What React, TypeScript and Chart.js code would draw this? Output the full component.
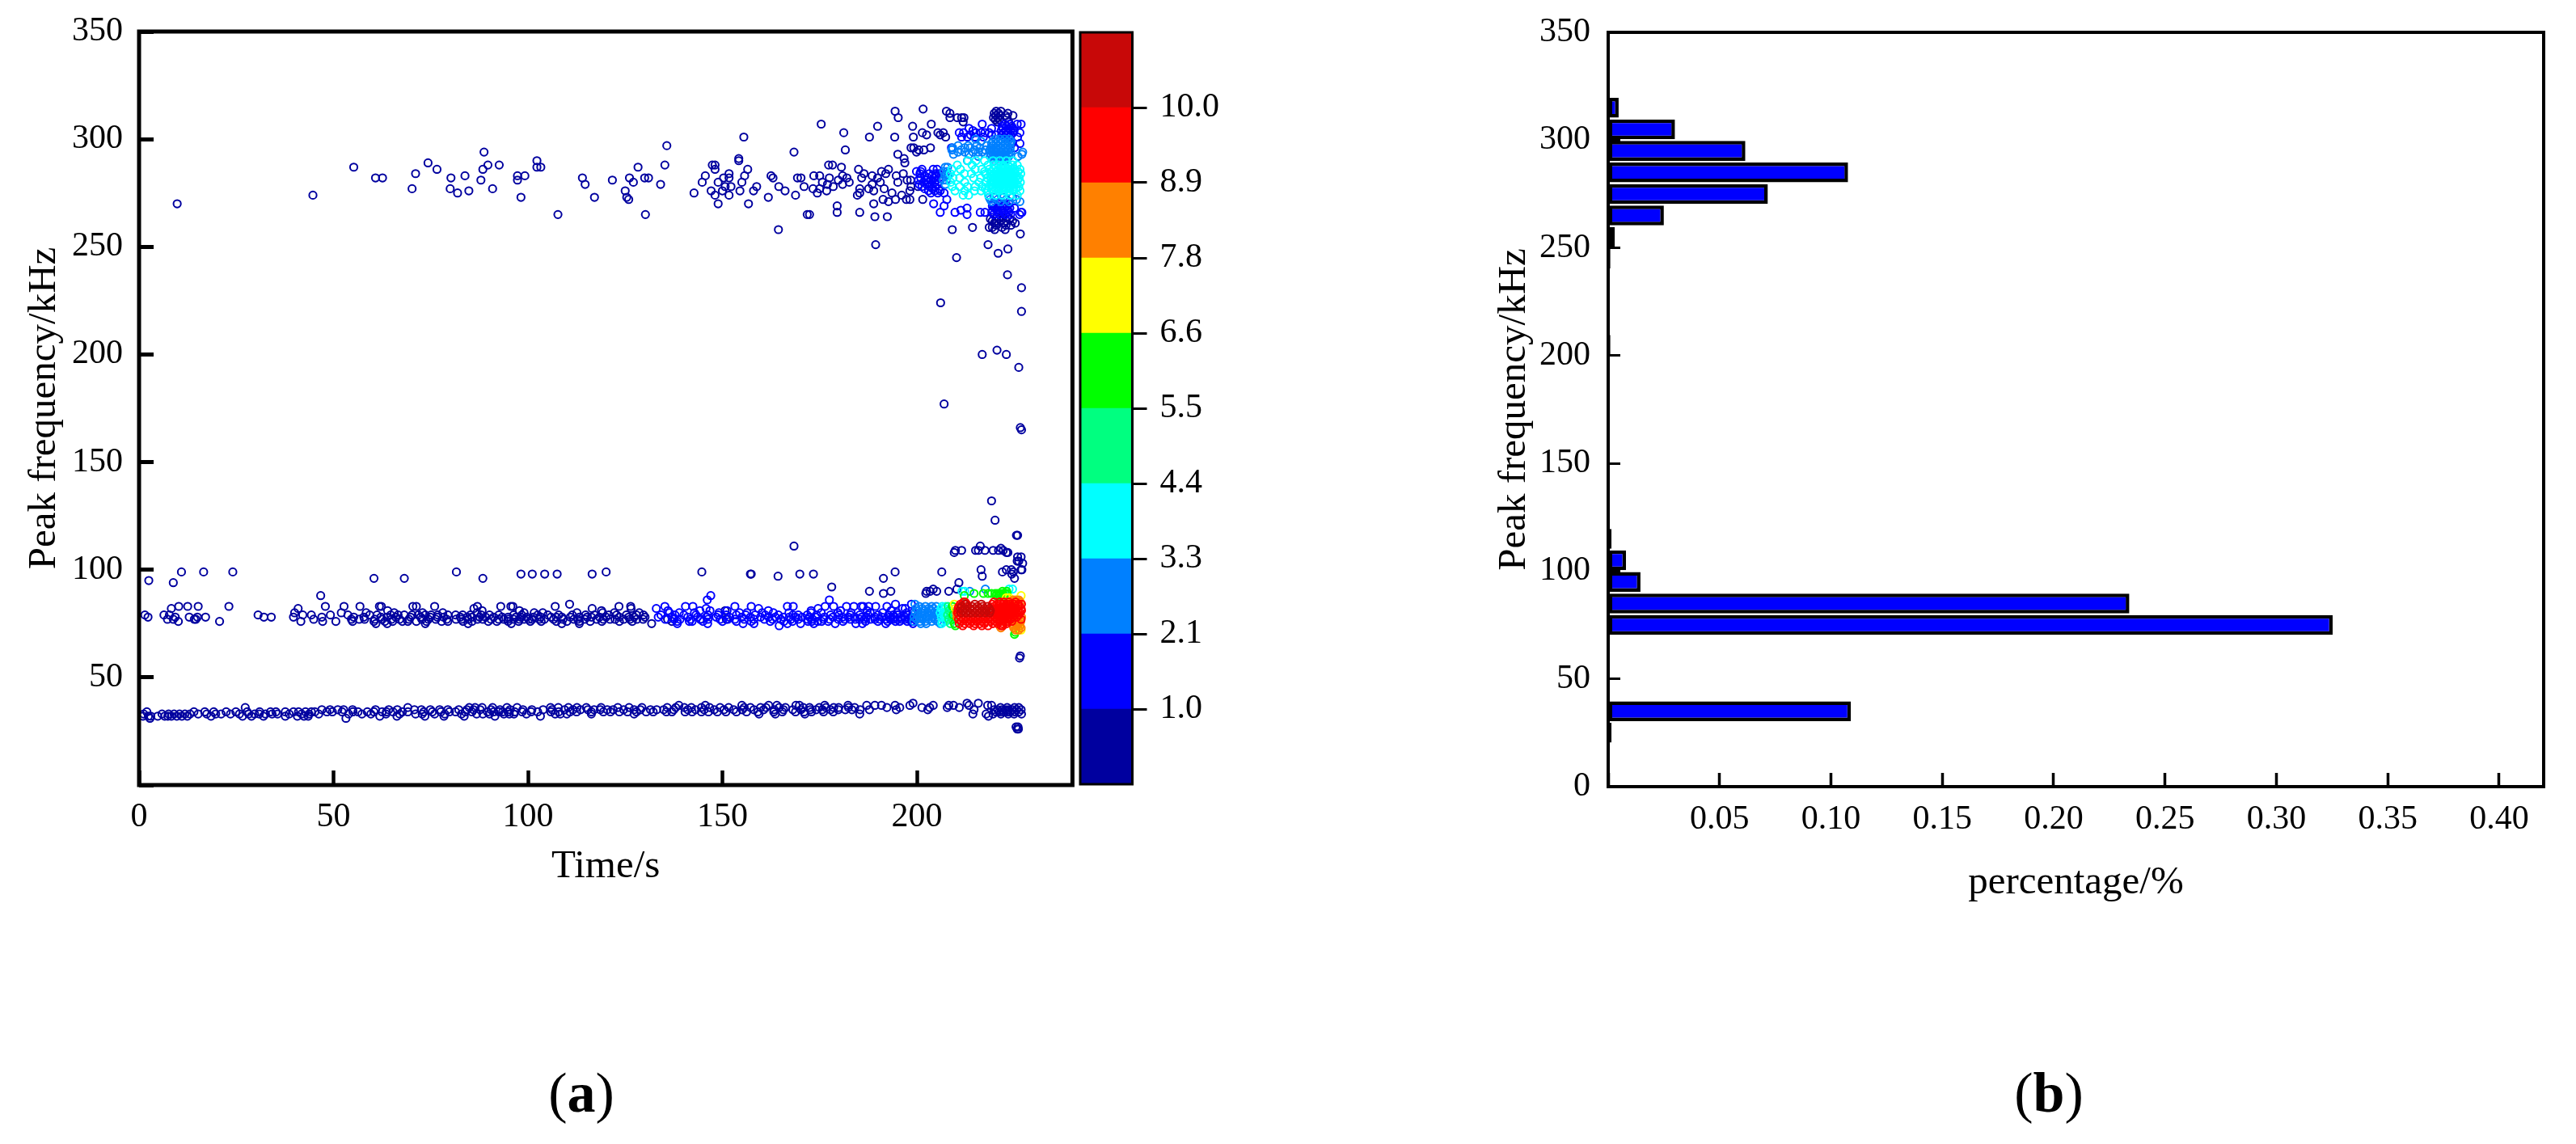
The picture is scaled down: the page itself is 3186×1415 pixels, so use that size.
import { useEffect, useRef } from "react"
import { Chart, registerables } from "chart.js"

Chart.register(...registerables)

type Row = [number, number[]]

const FONT = "Liberation Serif"

// colour bands, coldest first
const levelColors = ["#00009F", "#0000FF", "#0080FF", "#00FFFF", "#00FF80", "#00FF00", "#FFFF00", "#FF8000", "#FF0000", "#C80808"]
const levelLabels = ["1.0", "2.1", "3.3", "4.4", "5.5", "6.6", "7.8", "8.9", "10.0"]

// scatter rows: [peak frequency kHz, [time s, ...]]
const level0Rows: Row[] = [
  [314, [201.6]],
  [313, [194.4, 207.6, 220.4, 221.6]],
  [312, [208.5, 219.9, 221, 223.4]],
  [311, [220.3, 221.4, 222.8, 224.7]],
  [310, [195.2, 208.5, 210.4, 211.5, 212.1, 219.7, 220.8, 223.2]],
  [309, [220.2, 221.2]],
  [308, [211.9, 220.7, 223.6]],
  [307, [175.4, 203.7]],
  [306, [189.9, 198.9]],
  [303, [181.2, 201.4, 205.4, 206.8]],
  [302, [202.5, 206]],
  [301, [155.5, 187.8, 194.3, 199.1, 207.4]],
  [297, [135.7]],
  [296, [198.5, 199.2, 203.5]],
  [295, [181.6, 200.5, 201.8]],
  [294, [88.7, 168.4, 199.9]],
  [293, [195.1]],
  [291, [154.2, 196.7]],
  [290, [102.3, 154.2]],
  [289, [74.3, 196.9]],
  [288, [89.7, 92.6, 135.2, 147.4, 148.1, 177.3, 178.3]],
  [287, [55.2, 102.3, 103.3, 128.3, 180.6]],
  [286, [76.6, 88.4, 148.1, 156.5, 185, 192.7]],
  [285, [190.9]],
  [284, [71.1, 151.7, 186.4, 192, 196.5]],
  [283, [83.8, 97.3, 99.2, 145.6, 155.7, 162.5, 173.5, 175, 180.9, 188.5, 194.7]],
  [282, [60.8, 62.6, 80.2, 114, 126.1, 130, 131, 150.3, 151.7, 163, 169.3, 170.2, 177.5, 182, 185.8, 189.9]],
  [281, [87.9, 97.3, 121.7, 179.8, 197.5, 198.4]],
  [280, [127.1, 144.8, 148.9, 155, 175.7, 182.6, 190.6, 195.1]],
  [279, [114.7, 134.1, 177, 180.9, 188.5]],
  [278, [150.7, 152.2, 158.8, 164.5, 171, 178.5, 198.5, 200.3]],
  [277, [70.2, 80, 90.9, 173.3, 175, 185.3, 187.6, 191.6]],
  [276, [84.8, 125, 147.1, 150, 154.5, 158, 166.1, 176.8, 188.9, 198.2]],
  [275, [81.9, 142.7, 174.4, 185.3, 193.6]],
  [274, [44.7, 148.1, 151.7, 168.8, 184.7, 196.1]],
  [273, [98.2, 117.1, 125.4, 161.8]],
  [272, [125.9, 191.3, 194.5, 197.3, 198.2, 201.5]],
  [271, [192.7]],
  [270, [9.8, 148.9, 156.7, 188.9]],
  [269, [179.5]],
  [266, [179.5, 185.3]],
  [265, [107.7, 130.2, 171.8, 172.4]],
  [264, [189.2, 192.4, 220.6, 222.1, 223.3]],
  [263, [218.9, 221.1, 223.9]],
  [262, [219.4, 220.3, 221.6, 223, 224.6]],
  [261, [219.9, 222.3, 225.3]],
  [260, [220.5, 222.9, 224.2]],
  [259, [214.3, 218.6, 219.4, 221.9]],
  [258, [164.4, 209.1, 220, 222.7]],
  [256, [226.6]],
  [251, [189.4, 218.3]],
  [249, [223.4]],
  [247, [220.9]],
  [245, [210.2]],
  [237, [223.3]],
  [231, [226.9]],
  [224, [206.1]],
  [220, [226.9]],
  [202, [220.6]],
  [200, [216.8, 223]],
  [194, [226.2]],
  [177, [207]],
  [166, [226.6]],
  [165, [226.9]],
  [132, [219.2]],
  [123, [220.1]],
  [116, [225.6, 225.9]],
  [111, [168.4, 216.3]],
  [110, [221.6]],
  [109, [209.9, 211.5, 215.1, 215.8, 217.5, 219.6, 221, 222.2]],
  [108, [209.6, 223, 223.4]],
  [106, [226.8, 225.9]],
  [104, [225.8, 226.2]],
  [103, [227.2]],
  [100, [216.5, 223, 224.3, 226.8, 227]],
  [99, [10.9, 16.6, 24.1, 81.6, 120.1, 144.7, 194.4, 206.4, 222, 224.8]],
  [98, [98.2, 101.1, 104.3, 107.5, 116.5, 157.2, 157.4, 169.9, 173.4, 224.4]],
  [97, [164.3, 216.8]],
  [96, [60.4, 68.2, 88.4, 191.4, 225.1]],
  [95, [2.5]],
  [94, [8.8, 210.8]],
  [92, [178.1]],
  [91, [204.2, 210.3]],
  [90, [187.8, 193.3, 203.4, 205.1, 208.2, 202.5]],
  [89, [191.4, 202.3]],
  [88, [46.7]],
  [84, [110.7]],
  [83, [10.2, 12.5, 15.2, 23.1, 47.9, 52.7, 56.8, 61.8, 62.3, 70.4, 71.3, 76, 87, 93, 95.6, 96.1, 107, 123.4, 126.4]],
  [82, [8.3, 40.9, 86.1, 116.5, 126.5]],
  [81, [150.7, 63.9, 88.2, 97.8, 118.9]],
  [80, [40, 52, 99, 101.6, 122.2, 58.4, 65.6, 72.9, 78.1, 86.9, 103.8, 112.6, 119.2, 128.6]],
  [79, [1.5, 6.4, 7.8, 30.6, 42.1, 44.3, 49.2, 53.7, 59.3, 64.7, 66.6, 68.2, 71.8, 73.6, 76.8, 79.4, 81.4, 83.2, 90.1, 92.5, 96.3, 102.5, 111.4, 114.8, 120.8, 122.8, 125.3, 129.7, 61.2, 70.2, 75.1, 85.2, 88, 98.4, 105.1, 107.9, 117.1, 127.9]],
  [78, [2.3, 9.3, 12.9, 15, 17.1, 32.1, 34, 39.7, 47, 55.2, 62.2, 69.8, 76.7, 84.4, 85.6, 89.1, 93.4, 94.9, 96.9, 99.7, 101.4, 105.9, 108.7, 110.9, 113.2, 116.3, 120.1, 123.5, 127.3, 130.1, 57.8, 63.8, 66, 72.4, 74.9, 78.3, 82.6, 87.6, 91.2, 98.2, 103.3, 107.3, 115.2, 118.4, 125.9]],
  [77, [7.3, 8.8, 14.2, 14.6, 44.9, 54.6, 56.6, 58, 62.5, 64.9, 67, 76.3, 79.1, 81.5, 84.6, 87, 90.5, 92.5, 93.8, 96.3, 99, 101.1, 104.2, 106.6, 109, 111.8, 114.6, 117.7, 121.1, 124.6, 128, 135.9, 144.3, 151, 60.6, 69.4, 72.7, 74.4, 82.9, 88.4, 94.9, 97.8, 100.2, 102.9, 112.8, 119.4, 122.4, 126.2, 129.6]],
  [76, [10.1, 20.7, 41.6, 47.2, 50.6, 54.9, 60.4, 63.2, 67.7, 69.1, 71.3, 73.9, 79.4, 85.6, 89.8, 94.9, 97.6, 107.3, 113.2, 123.5, 137, 65.2, 77.8, 83.3, 92, 100.6, 103.4, 110, 116, 119, 126.8]],
  [75, [95.7, 108.7, 113.2, 131.8, 60.9, 63.8, 73.6, 84.6]],
  [38, [199, 212.9, 215.8]],
  [37, [169.8, 176.3, 182.3, 187.1, 189.2, 190.9, 194.4, 198.2, 204.2, 208.2, 209.4, 213.4, 218.2, 219.2, 138.8, 145.6, 155, 161.9, 164, 168.9]],
  [36, [27.3, 69.1, 84.9, 107.8, 115, 138, 144.6, 146.7, 149.4, 155.6, 161.2, 164.6, 170.8, 176.6, 179.9, 182.4, 192.3, 195.6, 201.3, 203.3, 207.8, 210.9, 221.5, 223.2, 225.1, 226.2, 86.4, 88.2, 90.9, 94.6, 97.2, 105.8, 110.4, 112.6, 118.8, 123.1, 126, 129.3, 135.8, 140.2, 142, 151.6, 157.2, 159.8, 166.2, 172.4, 174.9, 178.6, 184]],
  [35, [47, 51.1, 54.9, 60.8, 74.9, 77.3, 82.2, 87.7, 90.5, 98.7, 103.9, 109.4, 113.5, 117, 120.4, 124.6, 127.3, 131.5, 134.9, 141.1, 145.3, 152.9, 158.1, 165.7, 168.1, 172.6, 175.7, 179.8, 185.4, 187.8, 194.7, 202.8, 214.7, 219.9, 220.8, 221.9, 222.8, 223.6, 224.6, 225.6, 226.8, 49.1, 52.6, 64.2, 66.4, 70.8, 72.6, 79.4, 84.3, 86, 92.8, 95.4, 101, 106.2, 111.6, 115.4, 118.6, 121.9, 128.9, 133.1, 137.5, 143.1, 147.9, 150.4, 155.1, 160.6, 163.3, 170.2, 174.1, 177.8, 181.6, 183.3]],
  [34, [2, 16.9, 24.9, 33.8, 37.6, 39.7, 42.8, 45.2, 48.3, 49.7, 56.3, 58.7, 62.5, 65.3, 67.7, 73.2, 79.8, 85.6, 92.5, 93.5, 96.6, 102.5, 105.9, 110.8, 116.3, 119.4, 123.5, 125.6, 130.4, 132.2, 137, 140.4, 144.6, 148.7, 153.6, 163.2, 172.9, 176, 178.5, 220.3, 221.2, 222.2, 223.1, 224, 225.2, 226.2, 14.1, 19.2, 22.4, 27.8, 31, 35.2, 41, 44.3, 52.2, 55, 60.4, 63.6, 69.1, 75.4, 77.6, 81.4, 83.9, 89.6, 91.2, 94.9, 98.5, 100.8, 107.9, 112.5, 121.2, 127.9, 135.6, 142.2, 146.4, 150.9, 156.2, 159.1, 165.4, 168.8, 171]],
  [33, [1.2, 5.9, 7.6, 9, 10.4, 13.1, 15.2, 21.1, 23.5, 29.7, 32.5, 35.6, 41.8, 57.3, 63.5, 71.1, 76, 82.9, 88.4, 95.2, 99.6, 107, 108.3, 110, 116.3, 127.3, 159.4, 163.6, 171.2, 185.3, 214.4, 217.8, 219.6, 221.6, 223.5, 225, 226.9, 11.8, 17.4, 19.7, 25.8, 28.2, 30.9, 34.2, 38.6, 43.7, 46.2, 53.9, 59.6, 67, 72.8, 78.6, 86.8, 90.1, 93.8, 96.4]],
  [32, [1, 2.4, 6.6, 8.3, 9.7, 12.4, 18.5, 26.6, 37.6, 40.7, 43.5, 66.3, 73.5, 78.4, 83.6, 91.5, 103.2, 218.4, 3, 4.8, 7.4, 11, 28.9, 32, 42.4, 61.9]],
  [31, [2.8, 53.2]],
  [27, [225.5, 226]],
  [26, [225.8, 226.1]],
  [60, [226.6]],
  [59, [226.4]],
]

const level1Rows: Row[] = [
  [307, [216.8, 222.6, 223.8, 225.8, 226.8]],
  [306, [221.9, 223.1, 224.4]],
  [305, [213.4, 219.2, 222.1, 223.5, 224.7]],
  [304, [214.4, 221.7, 222.8, 224.1, 225]],
  [303, [212, 216.5, 217.5, 222.3, 223.4, 224.8, 226.5, 210.9, 215.2, 218.6]],
  [302, [219.2, 220.3, 221.8, 223, 224.2, 213.8]],
  [301, [211.5, 213, 215, 222.4, 223.7, 217.1, 225.9]],
  [298, [224.4, 226.5]],
  [296, [225.1, 208.9]],
  [286, [201.3, 204.2, 205.2]],
  [285, [199.9, 201]],
  [284, [200.8, 203.2, 204.8, 205.6]],
  [283, [202, 203.9, 205]],
  [282, [201, 202.8, 204.4, 205.7]],
  [281, [200.4, 202.3, 203.6, 205]],
  [280, [201.7, 203, 204.6]],
  [279, [200.6, 202.5, 203.9, 205.3]],
  [278, [201.3, 203.2, 204.7]],
  [277, [202, 204, 205.6]],
  [276, [203, 204.6, 206]],
  [275, [203.6, 205.4, 207]],
  [272, [207.7]],
  [270, [204.3, 219.6, 221, 222.4, 223.7]],
  [269, [207, 219.4, 220.8, 222.1, 223.3]],
  [268, [212.9, 219.9, 221.2, 222.6, 223.9, 225.1]],
  [267, [211.3, 219.5, 220.6, 222, 223.4]],
  [266, [206, 209.8, 216.3, 217.5, 219.3, 220.8, 222.3, 223.6, 226.8, 227]],
  [265, [212.9, 219.7, 221.2, 222.8, 224.1, 226.4]],
  [88, [147]],
  [86, [146.1, 177.5]],
  [84, [194.5, 198.6]],
  [83, [135.2, 140.5, 142.4, 153.2, 157.4, 166.7, 168.2, 176.4, 178.6, 181.9, 183.8, 185.7, 186.2, 187.6, 189.4, 192.3]],
  [82, [133, 145.8, 159.3, 197, 174.6, 196.3]],
  [81, [136, 172.8, 146.8, 144.2, 151.2, 161.8, 180.4, 187.2, 193.4]],
  [80, [136.4, 138.9, 156.3, 163.1, 172.8, 188, 199, 142.8, 149.1, 154.4, 160.2, 167.1, 175.4, 179.7, 183.1, 191.2, 194.9, 197.4]],
  [79, [134.2, 140.1, 146.3, 153.6, 158.4, 168.1, 169.5, 177.8, 182.9, 185.3, 190, 195, 197.6, 137.8, 143.2, 148.9, 151, 156, 161, 164.4, 171.8, 174.2, 180, 187.4, 192.7, 193.9]],
  [78, [133.5, 137, 141.1, 143.6, 148.4, 151.8, 155, 159.8, 161.9, 165.7, 168.8, 170.5, 172.4, 174, 176.2, 178.4, 180.9, 184, 187, 189.2, 191, 193, 195.8, 197, 198.4, 145.9, 157.2, 163.6, 167.2, 182.4, 185.8, 194.2]],
  [77, [135.3, 139.1, 141.8, 146.3, 149.4, 153.2, 155.6, 160.8, 165, 167.6, 169.5, 171.9, 173.2, 176, 177.6, 179.8, 181.4, 182.9, 185.3, 186.5, 188, 190.5, 192, 194, 196, 198, 199.5, 137.6, 144.4, 151.4, 158.1, 162.9, 184.2, 189.2, 193.2, 195, 197]],
  [76, [138.4, 141.5, 142.2, 153.6, 162.3, 168, 172, 173, 174.5, 175.5, 190, 192.5, 194.5, 195.6, 197.5, 198.6, 145, 150, 157.4, 165.8, 177.2, 181, 186.8]],
  [75, [138.4, 158.1, 166.7, 173.5, 184.3, 186, 192, 199, 146.2, 155.3, 170.1, 179]],
  [74, [164.6]],
]

const level2Rows: Row[] = [
  [300, [215.1, 220.2, 221.4, 222.6, 223.8]],
  [299, [216.5, 219.6, 220.9, 222, 223.3, 224.2]],
  [298, [219.2, 220.4, 221.6, 222.9, 223.9]],
  [297, [210.6, 217.9, 219.5, 220.8, 222.1, 223.4, 213.2, 215.4]],
  [296, [209.2, 212.3, 213.7, 219, 220.2, 221.4, 222.7, 224, 216.2]],
  [295, [209, 218.8, 219.9, 221, 222.3, 223.5, 211.4, 214.9, 217.6]],
  [294, [210.6, 212.3, 214.4, 215.8, 216.8, 219.3, 220.5, 221.8, 223, 224.1, 227.2]],
  [293, [209.4, 219.1, 220.3, 221.5, 222.8, 223.7, 227, 213.4]],
  [292, [215.8, 218.9, 220, 221.2, 222.4, 223.6, 226]],
  [291, [219.4, 220.7, 222, 223.2]],
  [290, [213, 219.8, 221.1, 222.5]],
  [287, [207.3, 207.9]],
  [285, [206.9, 207.7]],
  [283, [207.2, 208]],
  [281, [206.8, 207.6]],
  [279, [207.3]],
  [273, [218.6, 219.9, 222.3, 224.6]],
  [272, [218.9, 220.8, 223, 225.6]],
  [271, [219.2, 221.6, 223.7, 226.5]],
  [84, [199.5, 212.3]],
  [83, [200.6, 202.2, 203.8, 205]],
  [82, [199.8, 201.4, 203, 204.3]],
  [81, [200.3, 202, 203.6, 205.2]],
  [80, [199.6, 201.2, 202.8, 204.4, 205.6]],
  [79, [200.2, 201.8, 203.3, 204.9]],
  [78, [199.3, 200.8, 202.4, 204, 205.5]],
  [77, [200, 201.5, 203, 204.6]],
  [76, [199.2, 200.8, 202.2, 203.8, 205.3]],
  [75, [201, 202.4, 206]],
  [91, [217.6]],
  [90, [213.6]],
]

const level3Rows: Row[] = [
  [290, [213.1, 215.2, 217.4, 219.6, 221.3, 223, 224.7]],
  [288, [210.4, 214.2, 218.3, 219.8, 221, 222.2, 223.4, 224.6, 225.8]],
  [286, [209, 211.2, 215, 216.7, 218.6, 219.7, 220.9, 221.7, 222.6, 223.5, 224.3, 225.2, 226.5]],
  [285, [217.4, 219.1, 220.3, 221.3, 222.2, 223.1, 224, 224.9, 226]],
  [284, [208.6, 212.2, 214, 217.6, 218.9, 219.9, 220.8, 221.7, 222.6, 223.5, 224.4, 225.3, 226.7]],
  [283, [219.4, 220.4, 221.2, 222.1, 223, 223.9, 224.8, 225.7]],
  [282, [209.3, 211, 214.6, 216.4, 218.1, 219.1, 220, 220.9, 221.8, 222.7, 223.6, 224.5, 225.4, 226.3]],
  [281, [219.5, 220.5, 221.4, 222.3, 223.2, 224.1, 225, 225.9]],
  [280, [208.7, 212.3, 216, 217.7, 219, 219.9, 220.8, 221.7, 222.6, 223.5, 224.4, 225.3, 226.6]],
  [279, [219.3, 220.3, 221.2, 222.1, 223, 223.9, 224.8, 225.6]],
  [278, [209.1, 211, 213, 215, 216.8, 218.5, 219.6, 220.5, 221.4, 222.3, 223.2, 224.1, 225, 226.2]],
  [277, [217.6, 219.2, 220.2, 221.1, 222, 222.9, 223.8, 224.7, 225.5]],
  [276, [209.8, 212.3, 214.8, 216.5, 218, 219.8, 221, 222.4, 223.6, 224.8, 226.5]],
  [274, [211.9, 213.3, 218.4, 220.2, 222, 224, 225.8]],
  [83, [206.5, 207.4]],
  [82, [206.2, 207.1]],
  [80, [206, 206.8, 207.6]],
  [78, [206.3, 207.2]],
  [76, [206.5, 207.5]],
  [75, [206.4]],
  [91, [223.7, 224.6]],
  [90, [212.3, 211.6]],
]

const level4Rows: Row[] = [
  [83, [208, 209]],
  [81, [208.3]],
  [79, [207.9, 208.8]],
  [77, [208.2, 209.1]],
  [75, [208.6]],
]

const level5Rows: Row[] = [
  [90, [222, 223.1]],
  [89, [214.7, 217.1, 218.3, 219.2, 220.1, 220.6, 221.1, 221.6, 222.1, 222.7, 223.2]],
  [88, [212.2, 220.4, 221.3, 222.2]],
  [83, [209.2]],
  [79, [209.3]],
  [75, [209.6]],
  [74, [209.9]],
  [71, [225.3]],
  [70, [225.1]],
]

const level6Rows: Row[] = [
  [88, [226.8]],
  [87, [223, 223.7]],
  [86, [224.4, 225.2]],
  [84, [209.6]],
  [82, [209.9]],
  [72, [226.8, 225.9]],
]

const level7Rows: Row[] = [
  [86, [224.8, 225.6, 226.2]],
  [85, [224.4, 226.6]],
  [80, [210.2]],
  [78, [210.3, 224.9, 225.5, 226.1, 226.9]],
  [77, [224.6, 225.2, 226.4]],
  [76, [224.9, 225.8, 226.7]],
  [75, [224.5, 225.4, 226.2]],
  [74, [221.3, 224.8, 225.7, 226.5]],
  [73, [221.6, 224.9, 226.8]],
  [72, [225.4, 226.2]],
]

const level8Rows: Row[] = [
  [85, [212, 212.4, 219.8, 221.3, 222.4, 223.6, 225.4]],
  [84, [211.2, 212.8, 219.4, 220.6, 221.5, 222.3, 223.1, 224, 225, 226.1, 226.9]],
  [83, [210.8, 219.8, 220.9, 221.8, 222.6, 223.5, 224.4, 225.3, 226.4]],
  [82, [210.6, 219.2, 220.3, 221.2, 222, 222.9, 223.8, 224.7, 225.6, 226.8]],
  [81, [210.9, 219.6, 220.6, 221.5, 222.4, 223.3, 224.2, 225.1, 226, 226.9]],
  [80, [210.5, 219.4, 220.2, 221.1, 221.9, 222.8, 223.7, 224.6, 225.5, 226.5]],
  [79, [210.8, 212.1, 213.4, 214.6, 215.9, 217.2, 218.4, 219.7, 220.7, 221.6, 222.5, 223.4, 224.3, 225.2, 226.2]],
  [78, [211.2, 212.5, 213.9, 215.1, 216.4, 217.7, 219, 220.1, 221, 222, 222.9, 223.8, 224.7, 225.7]],
  [77, [210.7, 211.9, 213.2, 214.4, 215.6, 216.9, 218.2, 219.4, 220.5, 221.4, 222.3, 223.2, 224.1, 226.8]],
  [76, [211.4, 212.8, 214.1, 215.3, 216.6, 217.8, 219, 220.2, 221.2, 222.2, 223.4, 224.4]],
  [75, [210.9, 212.3, 213.6, 214.9, 216.2, 217.4, 219.5, 220.8, 222, 223.1]],
  [74, [211.8, 214.6, 216.7, 218.3, 221.7, 222.1]],
]

const level9Rows: Row[] = [
  [84, [212.4, 214.9, 216.6]],
  [83, [211.5, 212.9, 214.2, 215.6, 216.9, 218.1]],
  [82, [211.2, 212.3, 213.6, 214.8, 216, 217.3, 218.6]],
  [81, [211.7, 213, 214.3, 215.5, 216.7, 217.9, 218.9]],
  [80, [211.3, 212.6, 213.8, 215, 216.2, 217.5, 218.7]],
]

const levelRows = [level0Rows, level1Rows, level2Rows, level3Rows, level4Rows, level5Rows, level6Rows, level7Rows, level8Rows, level9Rows]

// histogram of panel (b)
const binCenters = [25, 35, 75, 85, 95, 105, 115, 155, 205, 235, 245, 255, 265, 275, 285, 295, 305, 315]
const binShares = [0.0015, 0.109, 0.3253, 0.234, 0.0145, 0.008, 0.0015, 0.0005, 0.001, 0.0005, 0.001, 0.003, 0.025, 0.0717, 0.1077, 0.0616, 0.03, 0.0047]

const tickFont = { family: FONT, size: 42 }
const titleFont = { family: FONT, size: 49 }

// plain black frame round the plot area
const framePlugin = (lineWidth: number) => ({
  id: "frame",
  afterDatasetsDraw(chart: Chart) {
    const { ctx, chartArea: a } = chart
    ctx.save()
    ctx.strokeStyle = "#000"
    ctx.lineWidth = lineWidth
    ctx.strokeRect(a.left, a.top, a.right - a.left, a.bottom - a.top)
    ctx.restore()
  },
})

// ticks point into the plot, so tickLength is negative
const axisGrid = (tickLength: number, tickWidth: number) => ({
  offset: false,
  drawOnChartArea: false,
  drawTicks: true,
  tickLength: -tickLength,
  tickWidth,
  tickColor: "#000",
  color: "#000",
})

// fix the axis box so the plot area lands where the reference has it
const fixedHeight = (height: number) => (s: any) => {
  s.height = height
  s.paddingLeft = 0
  s.paddingRight = 0
}
const fixedWidth = (width: number) => (s: any) => {
  s.width = width
  s.paddingTop = 0
  s.paddingBottom = 0
}

function ScatterPanel() {
  const canvasRef = useRef<HTMLCanvasElement>(null)

  useEffect(() => {
    if (!canvasRef.current) return
    const chart = new Chart(canvasRef.current, {
      type: "scatter",
      data: {
        datasets: levelRows.map((rows, i) => ({
          data: rows.flatMap(([f, times]) => times.map((t) => ({ x: t, y: f }))),
          borderColor: levelColors[i],
          backgroundColor: "transparent",
          pointRadius: 4.6,
          pointBorderWidth: 2,
          order: -i,
        })),
      },
      options: {
        animation: false,
        responsive: false,
        devicePixelRatio: 1,
        layout: { padding: { top: 39, right: 3 } },
        plugins: { legend: { display: false }, tooltip: { enabled: false } },
        scales: {
          x: {
            type: "linear",
            min: 0,
            max: 240,
            afterFit: fixedHeight(179),
            border: { display: false },
            grid: axisGrid(18, 4.5),
            ticks: { stepSize: 50, includeBounds: false, font: tickFont, color: "#000", padding: 33, maxRotation: 0, autoSkip: false },
            title: { display: true, text: "Time/s", font: titleFont, color: "#000", padding: { top: 0, bottom: 48 } },
          },
          y: {
            type: "linear",
            min: 0,
            max: 350,
            afterFit: fixedWidth(172),
            border: { display: false },
            grid: axisGrid(18, 5),
            ticks: { stepSize: 50, font: tickFont, color: "#000", padding: 38, autoSkip: false, callback: (v) => (v === 0 ? "" : String(v)) },
            title: { display: true, text: "Peak frequency/kHz", font: titleFont, color: "#000", padding: { top: 26, bottom: 0 } },
          },
        },
      },
      plugins: [framePlugin(5)],
    })
    return () => chart.destroy()
  }, [])

  return <canvas ref={canvasRef} width={1333} height={1150} style={{ position: "absolute", left: 0, top: 0 }} />
}

function Colorbar() {
  const canvasRef = useRef<HTMLCanvasElement>(null)

  useEffect(() => {
    if (!canvasRef.current) return
    const chart = new Chart(canvasRef.current, {
      type: "bar",
      data: {
        labels: ["level"],
        datasets: levelColors.map((color) => ({
          data: [1],
          backgroundColor: color,
          borderWidth: 0,
          barPercentage: 1,
          categoryPercentage: 1,
        })),
      },
      options: {
        animation: false,
        responsive: false,
        devicePixelRatio: 1,
        layout: { padding: { top: 40, left: 16, bottom: 180 } },
        plugins: { legend: { display: false }, tooltip: { enabled: false } },
        scales: {
          x: { stacked: true, display: false },
          y: {
            stacked: true,
            position: "right",
            min: 0,
            max: 10,
            afterFit: fixedWidth(119.5),
            afterBuildTicks: (s: any) => { s.ticks = levelLabels.map((_, i) => ({ value: i + 1 })) },
            border: { display: false },
            grid: { drawOnChartArea: false, tickLength: 18, tickWidth: 3, tickColor: "#000" },
            ticks: { font: tickFont, color: "#000", padding: 16, autoSkip: false, callback: (v) => levelLabels[Number(v) - 1] },
          },
        },
      },
      plugins: [framePlugin(3)],
    })
    return () => chart.destroy()
  }, [])

  return <canvas ref={canvasRef} width={200} height={1150} style={{ position: "absolute", left: 1320, top: 0 }} />
}

function HistogramPanel() {
  const canvasRef = useRef<HTMLCanvasElement>(null)

  useEffect(() => {
    if (!canvasRef.current) return
    const chart = new Chart(canvasRef.current, {
      type: "bar",
      data: {
        datasets: [
          {
            data: binCenters.map((c, i) => ({ x: binShares[i], y: c })),
            backgroundColor: "#0000FF",
            borderColor: "#000",
            borderWidth: 4.5,
            borderSkipped: false,
            barPercentage: 1,
            categoryPercentage: 0.92,
          },
        ],
      },
      options: {
        indexAxis: "y",
        animation: false,
        responsive: false,
        devicePixelRatio: 1,
        layout: { padding: { top: 40, right: 40 } },
        plugins: { legend: { display: false }, tooltip: { enabled: false } },
        scales: {
          x: {
            type: "linear",
            min: 0,
            max: 0.42,
            afterFit: fixedHeight(177),
            border: { display: false },
            grid: axisGrid(17, 3.5),
            ticks: { stepSize: 0.05, includeBounds: false, font: tickFont, color: "#000", padding: 33, maxRotation: 0, autoSkip: false, callback: (v) => (v === 0 ? "" : Number(v).toFixed(2)) },
            title: { display: true, text: "percentage/%", font: titleFont, color: "#000", padding: { top: 0, bottom: 28 } },
          },
          y: {
            type: "linear",
            offset: false,
            min: 0,
            max: 350,
            afterFit: fixedWidth(189),
            border: { display: false },
            grid: axisGrid(15, 3),
            ticks: { stepSize: 50, font: tickFont, color: "#000", padding: 37, autoSkip: false },
            title: { display: true, text: "Peak frequency/kHz", font: titleFont, color: "#000", padding: { top: 44, bottom: 0 } },
          },
        },
      },
      plugins: [framePlugin(4)],
    })
    return () => chart.destroy()
  }, [])

  return <canvas ref={canvasRef} width={1386} height={1150} style={{ position: "absolute", left: 1800, top: 0 }} />
}

const captionStyle: React.CSSProperties = {
  position: "absolute",
  top: 1312,
  width: 200,
  textAlign: "center",
  fontFamily: FONT,
  fontSize: 70,
  lineHeight: "80px",
  color: "#000",
}

export default function App() {
  return (
    <div style={{ position: "fixed", left: 0, top: 0, width: 3186, height: 1415, background: "#fff", overflow: "hidden" }}>
      <ScatterPanel />
      <Colorbar />
      <HistogramPanel />
      <div style={{ ...captionStyle, left: 619 }}>(<b>a</b>)</div>
      <div style={{ ...captionStyle, left: 2434 }}>(<b>b</b>)</div>
    </div>
  )
}
